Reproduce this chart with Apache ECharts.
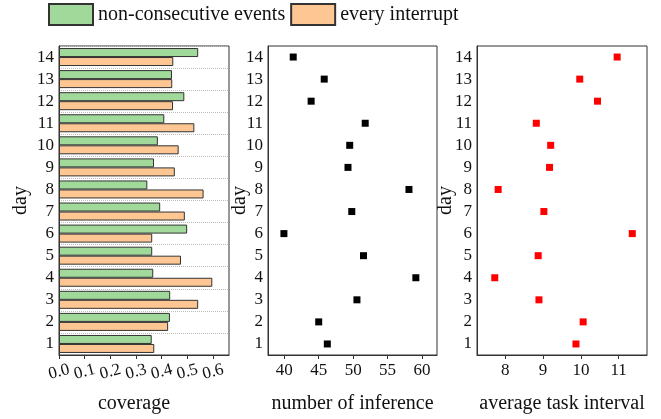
<!DOCTYPE html>
<html>
<head>
<meta charset="utf-8">
<script src="https://cdn.jsdelivr.net/npm/echarts@6/dist/echarts.min.js"></script>
<style>
html, body {margin:0; padding:0; background:#fff;}
#chart {width:661px; height:419px;}
</style>
</head>
<body>
<div id="chart"></div>
<script>
var days = ['1','2','3','4','5','6','7','8','9','10','11','12','13','14'];
var nonConsecutive = [0.361, 0.432, 0.433, 0.367, 0.363, 0.499, 0.394, 0.344, 0.370, 0.385, 0.410, 0.488, 0.440, 0.542];
var everyInterrupt = [0.371, 0.425, 0.542, 0.597, 0.475, 0.363, 0.490, 0.563, 0.451, 0.466, 0.527, 0.444, 0.441, 0.445];
var inferenceNum = [46.25, 45.0, 50.55, 59.1, 51.5, 39.95, 49.8, 58.1, 49.25, 49.5, 51.75, 43.9, 45.8, 41.3];
var taskInterval = [9.87, 10.06, 8.89, 7.72, 8.87, 11.36, 9.02, 7.81, 9.17, 9.20, 8.82, 10.44, 9.97, 10.96];
var coverageTicks = [0, 0.1, 0.2, 0.3, 0.4, 0.5, 0.6];
var inferenceTicks = [40, 45, 50, 55, 60];
var intervalTicks = [8, 9, 10, 11];

(function(){
    var font = 'Liberation Serif';
    var dark = '#333';

    function pairs(vals){
        return vals.map(function(v, i){ return [v, days[i]]; });
    }

    function yAxis(idx, gap, split){
        return {
            type: 'category', gridIndex: idx, data: days,
            name: 'day', nameLocation: 'middle', nameGap: gap, nameMoveOverlap: false,
            nameTextStyle: {fontFamily: font, fontSize: 20, color: '#111'},
            axisLine: {show: true, lineStyle: {color: dark}},
            axisTick: {alignWithLabel: true, length: 3, lineStyle: {color: dark}},
            axisLabel: {fontFamily: font, fontSize: 17, color: '#111', margin: 5, interval: 0},
            splitLine: {show: split, interval: 0, lineStyle: {type: 'dotted', color: '#bbb'}}
        };
    }

    function xAxis(idx, name, min, max, ticks, label, namePad){
        return {
            type: 'value', gridIndex: idx, min: min, max: max,
            name: name, nameLocation: 'middle', nameGap: 39, nameMoveOverlap: false,
            nameTextStyle: {fontFamily: font, fontSize: 20, color: '#111', padding: namePad || 0},
            axisLine: {show: true, onZero: false, lineStyle: {color: dark}},
            axisTick: {show: true, length: 4, customValues: ticks, lineStyle: {color: dark}},
            axisLabel: Object.assign({fontFamily: font, fontSize: 17, color: '#111', customValues: ticks}, label),
            splitLine: {show: false}
        };
    }

    var gridBase = {top: 46, height: 316, show: true, borderColor: dark, borderWidth: 1};

    var chart = echarts.init(document.getElementById('chart'));
    chart.setOption({
        animation: false,
        legend: {
            data: ['non-consecutive events', 'every interrupt'],
            left: 48, top: 3, padding: 0,
            itemWidth: 44, itemHeight: 21, itemGap: 5,
            icon: 'rect',
            textStyle: {fontFamily: font, fontSize: 20, color: '#111'}
        },
        grid: [
            Object.assign({left: 59, width: 170}, gridBase),
            Object.assign({left: 268, width: 169}, gridBase),
            Object.assign({left: 477, width: 170}, gridBase)
        ],
        xAxis: [
            xAxis(0, 'coverage', 0, 0.662, coverageTicks, {
                rotate: 15, align: 'center', verticalAlign: 'middle', margin: 17,
                formatter: function(v){ return v.toFixed(1); }
            }, [0, 20, 0, 0]),
            xAxis(1, 'number of inference', 37.64, 62.17, inferenceTicks, {margin: 7}),
            xAxis(2, 'average task interval', 7.25, 11.75, intervalTicks, {margin: 7})
        ],
        yAxis: [yAxis(0, 28, true), yAxis(1, 18, false), yAxis(2, 21, false)],
        series: [
            {
                name: 'non-consecutive events', type: 'bar', xAxisIndex: 0, yAxisIndex: 0,
                data: nonConsecutive, barWidth: 9, barGap: '0%',
                itemStyle: {color: '#a1d99b', borderColor: '#333', borderWidth: 1}
            },
            {
                name: 'every interrupt', type: 'bar', xAxisIndex: 0, yAxisIndex: 0,
                data: everyInterrupt, barWidth: 9, barGap: '0%',
                itemStyle: {color: '#fdc692', borderColor: '#333', borderWidth: 1}
            },
            {
                type: 'scatter', xAxisIndex: 1, yAxisIndex: 1,
                data: pairs(inferenceNum), symbol: 'rect', symbolSize: 7,
                itemStyle: {color: '#000', opacity: 1}
            },
            {
                type: 'scatter', xAxisIndex: 2, yAxisIndex: 2,
                data: pairs(taskInterval), symbol: 'rect', symbolSize: 7,
                itemStyle: {color: '#ff0000', opacity: 1}
            }
        ]
    });
}());
</script>
</body>
</html>
